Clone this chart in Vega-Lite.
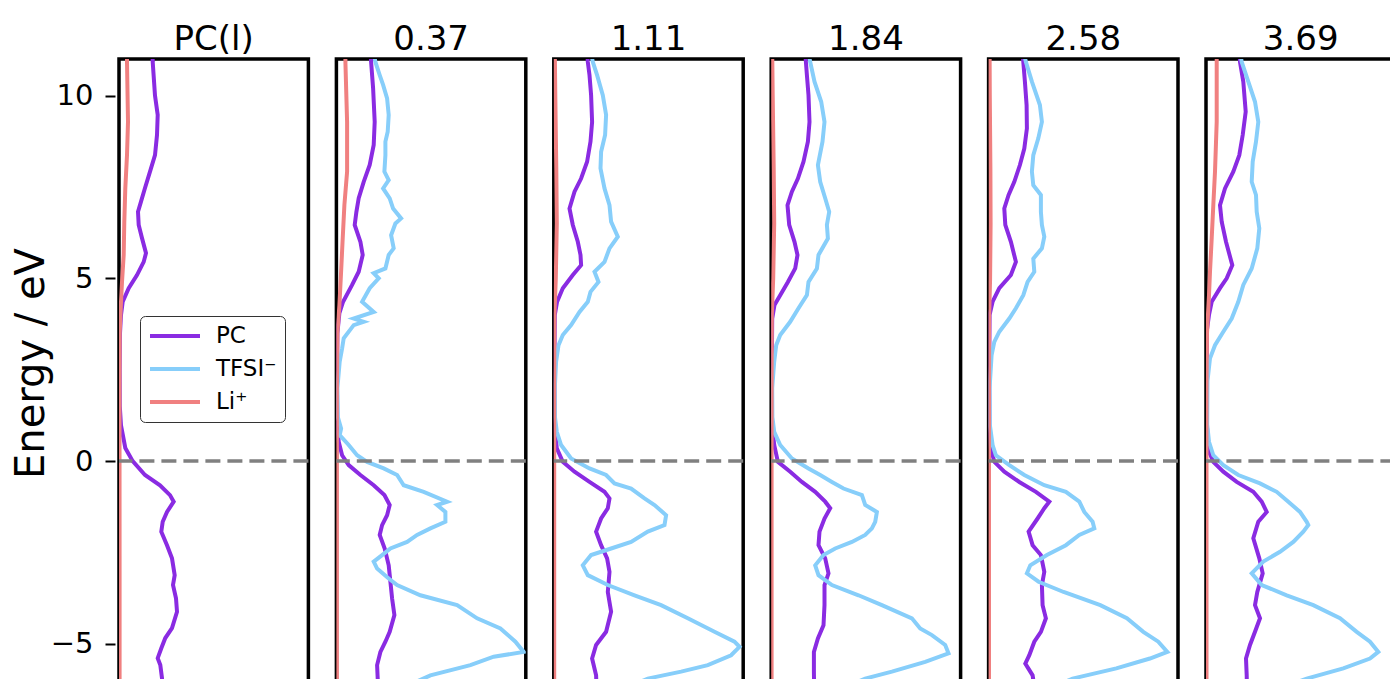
{
"$schema": "https://vega.github.io/schema/vega-lite/v6.json",
"background": "white",
"padding": {"left": 11, "top": 23, "right": 0, "bottom": 0},
"datasets": {"d": [
{"panel":"PC(l)","species":"PC","E":11.2,"dos":33.5},{"panel":"PC(l)","species":"PC","E":10.92,"dos":33.7},{"panel":"PC(l)","species":"PC","E":10.0,"dos":36},{"panel":"PC(l)","species":"PC","E":9.47,"dos":38.7},{"panel":"PC(l)","species":"PC","E":8.92,"dos":38},{"panel":"PC(l)","species":"PC","E":8.37,"dos":36},{"panel":"PC(l)","species":"PC","E":7.92,"dos":31},{"panel":"PC(l)","species":"PC","E":7.47,"dos":26},{"panel":"PC(l)","species":"PC","E":7.1,"dos":22},{"panel":"PC(l)","species":"PC","E":6.82,"dos":19},{"panel":"PC(l)","species":"PC","E":6.46,"dos":19.7},{"panel":"PC(l)","species":"PC","E":6.1,"dos":23},{"panel":"PC(l)","species":"PC","E":5.69,"dos":27},{"panel":"PC(l)","species":"PC","E":5.45,"dos":24.7},{"panel":"PC(l)","species":"PC","E":5.09,"dos":18},{"panel":"PC(l)","species":"PC","E":4.73,"dos":9.7},{"panel":"PC(l)","species":"PC","E":4.36,"dos":3.7},{"panel":"PC(l)","species":"PC","E":4.0,"dos":2},{"panel":"PC(l)","species":"PC","E":3.5,"dos":1},{"panel":"PC(l)","species":"PC","E":2.5,"dos":0.7},{"panel":"PC(l)","species":"PC","E":1.5,"dos":0.8},{"panel":"PC(l)","species":"PC","E":0.98,"dos":2},{"panel":"PC(l)","species":"PC","E":0.36,"dos":6.3},{"panel":"PC(l)","species":"PC","E":0,"dos":13.7},{"panel":"PC(l)","species":"PC","E":-0.38,"dos":26},{"panel":"PC(l)","species":"PC","E":-0.66,"dos":41},{"panel":"PC(l)","species":"PC","E":-0.93,"dos":51},{"panel":"PC(l)","species":"PC","E":-1.11,"dos":54.7},{"panel":"PC(l)","species":"PC","E":-1.39,"dos":48},{"panel":"PC(l)","species":"PC","E":-1.66,"dos":43.7},{"panel":"PC(l)","species":"PC","E":-1.93,"dos":42.3},{"panel":"PC(l)","species":"PC","E":-2.3,"dos":48},{"panel":"PC(l)","species":"PC","E":-2.66,"dos":53},{"panel":"PC(l)","species":"PC","E":-3.12,"dos":55.7},{"panel":"PC(l)","species":"PC","E":-3.39,"dos":54},{"panel":"PC(l)","species":"PC","E":-3.75,"dos":57},{"panel":"PC(l)","species":"PC","E":-4.12,"dos":58},{"panel":"PC(l)","species":"PC","E":-4.57,"dos":53},{"panel":"PC(l)","species":"PC","E":-4.84,"dos":46.3},{"panel":"PC(l)","species":"PC","E":-5.12,"dos":42.3},{"panel":"PC(l)","species":"PC","E":-5.39,"dos":38.7},{"panel":"PC(l)","species":"PC","E":-5.58,"dos":41.3},{"panel":"PC(l)","species":"PC","E":-5.94,"dos":43},{"panel":"PC(l)","species":"PC","E":-6.4,"dos":44},
{"panel":"PC(l)","species":"Li⁺","E":11.2,"dos":8},{"panel":"PC(l)","species":"Li⁺","E":10.92,"dos":8},{"panel":"PC(l)","species":"Li⁺","E":9.28,"dos":9},{"panel":"PC(l)","species":"Li⁺","E":8.37,"dos":8},{"panel":"PC(l)","species":"Li⁺","E":7.46,"dos":6.3},{"panel":"PC(l)","species":"Li⁺","E":6.55,"dos":5.3},{"panel":"PC(l)","species":"Li⁺","E":5.64,"dos":4.7},{"panel":"PC(l)","species":"Li⁺","E":4.9,"dos":3},{"panel":"PC(l)","species":"Li⁺","E":4.36,"dos":2},{"panel":"PC(l)","species":"Li⁺","E":3.5,"dos":0.7},{"panel":"PC(l)","species":"Li⁺","E":2,"dos":0.5},{"panel":"PC(l)","species":"Li⁺","E":-3,"dos":0.6},{"panel":"PC(l)","species":"Li⁺","E":-6.4,"dos":0.6},

{"panel":"0.37","species":"PC","E":11.2,"dos":34},{"panel":"0.37","species":"PC","E":10.92,"dos":34.7},{"panel":"0.37","species":"PC","E":10.2,"dos":36.7},{"panel":"0.37","species":"PC","E":9.28,"dos":38.3},{"panel":"0.37","species":"PC","E":8.65,"dos":37.3},{"panel":"0.37","species":"PC","E":8.1,"dos":33.3},{"panel":"0.37","species":"PC","E":7.64,"dos":27.3},{"panel":"0.37","species":"PC","E":7.19,"dos":22.3},{"panel":"0.37","species":"PC","E":6.82,"dos":20},{"panel":"0.37","species":"PC","E":6.46,"dos":18.3},{"panel":"0.37","species":"PC","E":6.0,"dos":24},{"panel":"0.37","species":"PC","E":5.64,"dos":26.3},{"panel":"0.37","species":"PC","E":5.18,"dos":22.3},{"panel":"0.37","species":"PC","E":4.82,"dos":15.7},{"panel":"0.37","species":"PC","E":4.36,"dos":6.7},{"panel":"0.37","species":"PC","E":4.05,"dos":3},{"panel":"0.37","species":"PC","E":3.5,"dos":1},{"panel":"0.37","species":"PC","E":2,"dos":0.6},{"panel":"0.37","species":"PC","E":1,"dos":0.8},{"panel":"0.37","species":"PC","E":0.53,"dos":2.3},{"panel":"0.37","species":"PC","E":0.16,"dos":5.7},{"panel":"0.37","species":"PC","E":-0.11,"dos":12.3},{"panel":"0.37","species":"PC","E":-0.38,"dos":24},{"panel":"0.37","species":"PC","E":-0.66,"dos":37.3},{"panel":"0.37","species":"PC","E":-0.93,"dos":48},{"panel":"0.37","species":"PC","E":-1.2,"dos":53.3},{"panel":"0.37","species":"PC","E":-1.48,"dos":50.7},{"panel":"0.37","species":"PC","E":-1.75,"dos":45.7},{"panel":"0.37","species":"PC","E":-2.02,"dos":43.3},{"panel":"0.37","species":"PC","E":-2.39,"dos":48.3},{"panel":"0.37","species":"PC","E":-2.85,"dos":52.3},{"panel":"0.37","species":"PC","E":-3.3,"dos":54},{"panel":"0.37","species":"PC","E":-3.76,"dos":55.7},{"panel":"0.37","species":"PC","E":-4.21,"dos":58},{"panel":"0.37","species":"PC","E":-4.67,"dos":53.3},{"panel":"0.37","species":"PC","E":-4.94,"dos":49},{"panel":"0.37","species":"PC","E":-5.22,"dos":44},{"panel":"0.37","species":"PC","E":-5.58,"dos":40.7},{"panel":"0.37","species":"PC","E":-5.95,"dos":41.3},{"panel":"0.37","species":"PC","E":-6.4,"dos":42},
{"panel":"0.37","species":"TFSI⁻","E":11.2,"dos":37},{"panel":"0.37","species":"TFSI⁻","E":10.92,"dos":39},{"panel":"0.37","species":"TFSI⁻","E":10.56,"dos":43.3},{"panel":"0.37","species":"TFSI⁻","E":10.29,"dos":46.7},{"panel":"0.37","species":"TFSI⁻","E":9.92,"dos":50.7},{"panel":"0.37","species":"TFSI⁻","E":9.47,"dos":52.3},{"panel":"0.37","species":"TFSI⁻","E":9.01,"dos":51.3},{"panel":"0.37","species":"TFSI⁻","E":8.74,"dos":49},{"panel":"0.37","species":"TFSI⁻","E":8.37,"dos":49},{"panel":"0.37","species":"TFSI⁻","E":7.92,"dos":48},{"panel":"0.37","species":"TFSI⁻","E":7.69,"dos":52.3},{"panel":"0.37","species":"TFSI⁻","E":7.46,"dos":46.7},{"panel":"0.37","species":"TFSI⁻","E":7.19,"dos":53.3},{"panel":"0.37","species":"TFSI⁻","E":6.91,"dos":56.7},{"panel":"0.37","species":"TFSI⁻","E":6.64,"dos":64.7},{"panel":"0.37","species":"TFSI⁻","E":6.5,"dos":59},{"panel":"0.37","species":"TFSI⁻","E":6.18,"dos":54.7},{"panel":"0.37","species":"TFSI⁻","E":5.82,"dos":57.3},{"panel":"0.37","species":"TFSI⁻","E":5.64,"dos":52.3},{"panel":"0.37","species":"TFSI⁻","E":5.27,"dos":49},{"panel":"0.37","species":"TFSI⁻","E":5.14,"dos":37.3},{"panel":"0.37","species":"TFSI⁻","E":5.0,"dos":42.3},{"panel":"0.37","species":"TFSI⁻","E":4.73,"dos":33.3},{"panel":"0.37","species":"TFSI⁻","E":4.36,"dos":25.7},{"panel":"0.37","species":"TFSI⁻","E":4.08,"dos":37.3},{"panel":"0.37","species":"TFSI⁻","E":3.9,"dos":17.3},{"panel":"0.37","species":"TFSI⁻","E":3.81,"dos":27.3},{"panel":"0.37","species":"TFSI⁻","E":3.72,"dos":17.3},{"panel":"0.37","species":"TFSI⁻","E":3.36,"dos":7.3},{"panel":"0.37","species":"TFSI⁻","E":3.08,"dos":5.7},{"panel":"0.37","species":"TFSI⁻","E":2.72,"dos":3.3},{"panel":"0.37","species":"TFSI⁻","E":2.0,"dos":1},{"panel":"0.37","species":"TFSI⁻","E":1.2,"dos":1.5},{"panel":"0.37","species":"TFSI⁻","E":0.89,"dos":4.7},{"panel":"0.37","species":"TFSI⁻","E":0.71,"dos":3.3},{"panel":"0.37","species":"TFSI⁻","E":0.44,"dos":12.3},{"panel":"0.37","species":"TFSI⁻","E":0.16,"dos":20.7},{"panel":"0.37","species":"TFSI⁻","E":-0.02,"dos":30.7},{"panel":"0.37","species":"TFSI⁻","E":-0.2,"dos":47.3},{"panel":"0.37","species":"TFSI⁻","E":-0.38,"dos":60.7},{"panel":"0.37","species":"TFSI⁻","E":-0.66,"dos":67.3},{"panel":"0.37","species":"TFSI⁻","E":-0.84,"dos":87.3},{"panel":"0.37","species":"TFSI⁻","E":-1.11,"dos":110.7},{"panel":"0.37","species":"TFSI⁻","E":-1.2,"dos":100.7},{"panel":"0.37","species":"TFSI⁻","E":-1.39,"dos":109},{"panel":"0.37","species":"TFSI⁻","E":-1.66,"dos":109},{"panel":"0.37","species":"TFSI⁻","E":-1.84,"dos":94},{"panel":"0.37","species":"TFSI⁻","E":-2.02,"dos":80.7},{"panel":"0.37","species":"TFSI⁻","E":-2.21,"dos":70.7},{"panel":"0.37","species":"TFSI⁻","E":-2.39,"dos":54},{"panel":"0.37","species":"TFSI⁻","E":-2.57,"dos":45.7},{"panel":"0.37","species":"TFSI⁻","E":-2.75,"dos":37.3},{"panel":"0.37","species":"TFSI⁻","E":-2.94,"dos":40.7},{"panel":"0.37","species":"TFSI⁻","E":-3.21,"dos":52.3},{"panel":"0.37","species":"TFSI⁻","E":-3.39,"dos":60.7},{"panel":"0.37","species":"TFSI⁻","E":-3.67,"dos":84},{"panel":"0.37","species":"TFSI⁻","E":-3.94,"dos":120.7},{"panel":"0.37","species":"TFSI⁻","E":-4.3,"dos":140.7},{"panel":"0.37","species":"TFSI⁻","E":-4.58,"dos":164},{"panel":"0.37","species":"TFSI⁻","E":-4.94,"dos":179},{"panel":"0.37","species":"TFSI⁻","E":-5.22,"dos":187.3},{"panel":"0.37","species":"TFSI⁻","E":-5.35,"dos":157.3},{"panel":"0.37","species":"TFSI⁻","E":-5.58,"dos":134},{"panel":"0.37","species":"TFSI⁻","E":-5.86,"dos":94},{"panel":"0.37","species":"TFSI⁻","E":-6.4,"dos":50},
{"panel":"0.37","species":"Li⁺","E":11.2,"dos":9},{"panel":"0.37","species":"Li⁺","E":10.92,"dos":9},{"panel":"0.37","species":"Li⁺","E":9.28,"dos":10.7},{"panel":"0.37","species":"Li⁺","E":7.92,"dos":10.7},{"panel":"0.37","species":"Li⁺","E":7.01,"dos":8},{"panel":"0.37","species":"Li⁺","E":6.09,"dos":6.3},{"panel":"0.37","species":"Li⁺","E":5.18,"dos":4.7},{"panel":"0.37","species":"Li⁺","E":4.27,"dos":3},{"panel":"0.37","species":"Li⁺","E":3.5,"dos":1},{"panel":"0.37","species":"Li⁺","E":2,"dos":0.5},{"panel":"0.37","species":"Li⁺","E":-6.4,"dos":0.5},

{"panel":"1.11","species":"PC","E":11.2,"dos":33.5},{"panel":"1.11","species":"PC","E":10.92,"dos":34},{"panel":"1.11","species":"PC","E":10.56,"dos":35.7},{"panel":"1.11","species":"PC","E":10.01,"dos":37.3},{"panel":"1.11","species":"PC","E":9.28,"dos":38.3},{"panel":"1.11","species":"PC","E":8.74,"dos":36.7},{"panel":"1.11","species":"PC","E":8.19,"dos":33.3},{"panel":"1.11","species":"PC","E":7.73,"dos":27.3},{"panel":"1.11","species":"PC","E":7.37,"dos":20.7},{"panel":"1.11","species":"PC","E":6.91,"dos":15.7},{"panel":"1.11","species":"PC","E":6.46,"dos":19},{"panel":"1.11","species":"PC","E":6.0,"dos":24},{"panel":"1.11","species":"PC","E":5.64,"dos":26.7},{"panel":"1.11","species":"PC","E":5.36,"dos":27.3},{"panel":"1.11","species":"PC","E":5.09,"dos":19},{"panel":"1.11","species":"PC","E":4.73,"dos":9},{"panel":"1.11","species":"PC","E":4.36,"dos":3.3},{"panel":"1.11","species":"PC","E":4.0,"dos":1},{"panel":"1.11","species":"PC","E":2.5,"dos":0.6},{"panel":"1.11","species":"PC","E":1,"dos":0.8},{"panel":"1.11","species":"PC","E":0.35,"dos":3},{"panel":"1.11","species":"PC","E":-0.02,"dos":9},{"panel":"1.11","species":"PC","E":-0.29,"dos":20.7},{"panel":"1.11","species":"PC","E":-0.57,"dos":35.7},{"panel":"1.11","species":"PC","E":-0.84,"dos":50.7},{"panel":"1.11","species":"PC","E":-1.02,"dos":55.7},{"panel":"1.11","species":"PC","E":-1.29,"dos":54},{"panel":"1.11","species":"PC","E":-1.57,"dos":47.3},{"panel":"1.11","species":"PC","E":-1.93,"dos":42.3},{"panel":"1.11","species":"PC","E":-2.3,"dos":47.3},{"panel":"1.11","species":"PC","E":-2.66,"dos":53.3},{"panel":"1.11","species":"PC","E":-3.03,"dos":55.7},{"panel":"1.11","species":"PC","E":-3.58,"dos":54},{"panel":"1.11","species":"PC","E":-4.12,"dos":57.3},{"panel":"1.11","species":"PC","E":-4.67,"dos":52.3},{"panel":"1.11","species":"PC","E":-5.03,"dos":42.3},{"panel":"1.11","species":"PC","E":-5.4,"dos":38.3},{"panel":"1.11","species":"PC","E":-5.86,"dos":42.3},{"panel":"1.11","species":"PC","E":-6.4,"dos":43},
{"panel":"1.11","species":"TFSI⁻","E":11.2,"dos":37},{"panel":"1.11","species":"TFSI⁻","E":10.92,"dos":39},{"panel":"1.11","species":"TFSI⁻","E":10.56,"dos":43.3},{"panel":"1.11","species":"TFSI⁻","E":10.01,"dos":49},{"panel":"1.11","species":"TFSI⁻","E":9.47,"dos":52.3},{"panel":"1.11","species":"TFSI⁻","E":8.92,"dos":51.3},{"panel":"1.11","species":"TFSI⁻","E":8.46,"dos":47.3},{"panel":"1.11","species":"TFSI⁻","E":8.01,"dos":46.7},{"panel":"1.11","species":"TFSI⁻","E":7.46,"dos":50.7},{"panel":"1.11","species":"TFSI⁻","E":7.0,"dos":55.7},{"panel":"1.11","species":"TFSI⁻","E":6.55,"dos":57.3},{"panel":"1.11","species":"TFSI⁻","E":6.14,"dos":64},{"panel":"1.11","species":"TFSI⁻","E":5.82,"dos":55.7},{"panel":"1.11","species":"TFSI⁻","E":5.45,"dos":50.7},{"panel":"1.11","species":"TFSI⁻","E":5.18,"dos":40.7},{"panel":"1.11","species":"TFSI⁻","E":4.9,"dos":44.7},{"panel":"1.11","species":"TFSI⁻","E":4.63,"dos":36.7},{"panel":"1.11","species":"TFSI⁻","E":4.36,"dos":34},{"panel":"1.11","species":"TFSI⁻","E":4.08,"dos":25.7},{"panel":"1.11","species":"TFSI⁻","E":3.72,"dos":17.3},{"panel":"1.11","species":"TFSI⁻","E":3.45,"dos":9},{"panel":"1.11","species":"TFSI⁻","E":3.17,"dos":4.7},{"panel":"1.11","species":"TFSI⁻","E":2.72,"dos":2.3},{"panel":"1.11","species":"TFSI⁻","E":2.0,"dos":1},{"panel":"1.11","species":"TFSI⁻","E":1.2,"dos":1.2},{"panel":"1.11","species":"TFSI⁻","E":0.8,"dos":3},{"panel":"1.11","species":"TFSI⁻","E":0.44,"dos":7.3},{"panel":"1.11","species":"TFSI⁻","E":0.07,"dos":17.3},{"panel":"1.11","species":"TFSI⁻","E":-0.2,"dos":35.7},{"panel":"1.11","species":"TFSI⁻","E":-0.38,"dos":52.3},{"panel":"1.11","species":"TFSI⁻","E":-0.61,"dos":60.7},{"panel":"1.11","species":"TFSI⁻","E":-0.75,"dos":77.3},{"panel":"1.11","species":"TFSI⁻","E":-1.02,"dos":90.7},{"panel":"1.11","species":"TFSI⁻","E":-1.2,"dos":100.7},{"panel":"1.11","species":"TFSI⁻","E":-1.48,"dos":112.3},{"panel":"1.11","species":"TFSI⁻","E":-1.75,"dos":110.7},{"panel":"1.11","species":"TFSI⁻","E":-1.93,"dos":94},{"panel":"1.11","species":"TFSI⁻","E":-2.21,"dos":77.3},{"panel":"1.11","species":"TFSI⁻","E":-2.39,"dos":57.3},{"panel":"1.11","species":"TFSI⁻","E":-2.57,"dos":37.3},{"panel":"1.11","species":"TFSI⁻","E":-2.85,"dos":29},{"panel":"1.11","species":"TFSI⁻","E":-3.12,"dos":34},{"panel":"1.11","species":"TFSI⁻","E":-3.39,"dos":54},{"panel":"1.11","species":"TFSI⁻","E":-3.67,"dos":80.7},{"panel":"1.11","species":"TFSI⁻","E":-3.94,"dos":107.3},{"panel":"1.11","species":"TFSI⁻","E":-4.3,"dos":134},{"panel":"1.11","species":"TFSI⁻","E":-4.67,"dos":160.7},{"panel":"1.11","species":"TFSI⁻","E":-4.94,"dos":180.7},{"panel":"1.11","species":"TFSI⁻","E":-5.08,"dos":185.7},{"panel":"1.11","species":"TFSI⁻","E":-5.31,"dos":177.3},{"panel":"1.11","species":"TFSI⁻","E":-5.58,"dos":154},{"panel":"1.11","species":"TFSI⁻","E":-5.76,"dos":127.3},{"panel":"1.11","species":"TFSI⁻","E":-5.95,"dos":94},{"panel":"1.11","species":"TFSI⁻","E":-6.4,"dos":55},
{"panel":"1.11","species":"Li⁺","E":11.2,"dos":1},{"panel":"1.11","species":"Li⁺","E":10,"dos":1.5},{"panel":"1.11","species":"Li⁺","E":8,"dos":2.5},{"panel":"1.11","species":"Li⁺","E":6.5,"dos":3},{"panel":"1.11","species":"Li⁺","E":5,"dos":2},{"panel":"1.11","species":"Li⁺","E":4,"dos":0.6},{"panel":"1.11","species":"Li⁺","E":2,"dos":0.4},{"panel":"1.11","species":"Li⁺","E":-6.4,"dos":0.4},

{"panel":"1.84","species":"PC","E":11.2,"dos":34},{"panel":"1.84","species":"PC","E":10.92,"dos":34.7},{"panel":"1.84","species":"PC","E":10.56,"dos":35.7},{"panel":"1.84","species":"PC","E":10.01,"dos":37.3},{"panel":"1.84","species":"PC","E":9.28,"dos":38.3},{"panel":"1.84","species":"PC","E":8.74,"dos":36.7},{"panel":"1.84","species":"PC","E":8.19,"dos":32.3},{"panel":"1.84","species":"PC","E":7.73,"dos":26.7},{"panel":"1.84","species":"PC","E":7.37,"dos":20.7},{"panel":"1.84","species":"PC","E":7.0,"dos":16.3},{"panel":"1.84","species":"PC","E":6.46,"dos":18},{"panel":"1.84","species":"PC","E":6.0,"dos":23.3},{"panel":"1.84","species":"PC","E":5.64,"dos":26.3},{"panel":"1.84","species":"PC","E":5.27,"dos":24},{"panel":"1.84","species":"PC","E":4.9,"dos":16.7},{"panel":"1.84","species":"PC","E":4.54,"dos":9},{"panel":"1.84","species":"PC","E":4.27,"dos":3.3},{"panel":"1.84","species":"PC","E":3.9,"dos":1},{"panel":"1.84","species":"PC","E":2.5,"dos":0.6},{"panel":"1.84","species":"PC","E":1,"dos":0.8},{"panel":"1.84","species":"PC","E":0.44,"dos":3},{"panel":"1.84","species":"PC","E":-0.02,"dos":6.7},{"panel":"1.84","species":"PC","E":-0.29,"dos":19},{"panel":"1.84","species":"PC","E":-0.57,"dos":30.7},{"panel":"1.84","species":"PC","E":-0.84,"dos":44},{"panel":"1.84","species":"PC","E":-1.11,"dos":54},{"panel":"1.84","species":"PC","E":-1.29,"dos":59},{"panel":"1.84","species":"PC","E":-1.57,"dos":53.3},{"panel":"1.84","species":"PC","E":-1.93,"dos":48.3},{"panel":"1.84","species":"PC","E":-2.3,"dos":47.3},{"panel":"1.84","species":"PC","E":-2.66,"dos":54},{"panel":"1.84","species":"PC","E":-3.07,"dos":57.3},{"panel":"1.84","species":"PC","E":-3.39,"dos":53.3},{"panel":"1.84","species":"PC","E":-3.94,"dos":53.3},{"panel":"1.84","species":"PC","E":-4.49,"dos":52.3},{"panel":"1.84","species":"PC","E":-4.85,"dos":46.7},{"panel":"1.84","species":"PC","E":-5.22,"dos":42.7},{"panel":"1.84","species":"PC","E":-5.76,"dos":42.7},{"panel":"1.84","species":"PC","E":-6.4,"dos":43},
{"panel":"1.84","species":"TFSI⁻","E":11.2,"dos":37},{"panel":"1.84","species":"TFSI⁻","E":10.92,"dos":39},{"panel":"1.84","species":"TFSI⁻","E":10.38,"dos":43.3},{"panel":"1.84","species":"TFSI⁻","E":9.83,"dos":50},{"panel":"1.84","species":"TFSI⁻","E":9.28,"dos":53.3},{"panel":"1.84","species":"TFSI⁻","E":8.74,"dos":51.3},{"panel":"1.84","species":"TFSI⁻","E":8.1,"dos":46.7},{"panel":"1.84","species":"TFSI⁻","E":7.64,"dos":49},{"panel":"1.84","species":"TFSI⁻","E":7.19,"dos":54},{"panel":"1.84","species":"TFSI⁻","E":6.82,"dos":58},{"panel":"1.84","species":"TFSI⁻","E":6.46,"dos":55.7},{"panel":"1.84","species":"TFSI⁻","E":6.09,"dos":56.7},{"panel":"1.84","species":"TFSI⁻","E":5.64,"dos":47.3},{"panel":"1.84","species":"TFSI⁻","E":5.27,"dos":45.7},{"panel":"1.84","species":"TFSI⁻","E":4.9,"dos":37.3},{"panel":"1.84","species":"TFSI⁻","E":4.54,"dos":35.7},{"panel":"1.84","species":"TFSI⁻","E":4.18,"dos":27.3},{"panel":"1.84","species":"TFSI⁻","E":3.81,"dos":19},{"panel":"1.84","species":"TFSI⁻","E":3.45,"dos":9},{"panel":"1.84","species":"TFSI⁻","E":3.17,"dos":5},{"panel":"1.84","species":"TFSI⁻","E":2.72,"dos":3},{"panel":"1.84","species":"TFSI⁻","E":2,"dos":1},{"panel":"1.84","species":"TFSI⁻","E":1.2,"dos":1.2},{"panel":"1.84","species":"TFSI⁻","E":0.8,"dos":3},{"panel":"1.84","species":"TFSI⁻","E":0.44,"dos":9},{"panel":"1.84","species":"TFSI⁻","E":0.07,"dos":20.7},{"panel":"1.84","species":"TFSI⁻","E":-0.2,"dos":37.3},{"panel":"1.84","species":"TFSI⁻","E":-0.38,"dos":49},{"panel":"1.84","species":"TFSI⁻","E":-0.57,"dos":60.7},{"panel":"1.84","species":"TFSI⁻","E":-0.75,"dos":72.3},{"panel":"1.84","species":"TFSI⁻","E":-0.93,"dos":90.7},{"panel":"1.84","species":"TFSI⁻","E":-1.2,"dos":94},{"panel":"1.84","species":"TFSI⁻","E":-1.39,"dos":105.7},{"panel":"1.84","species":"TFSI⁻","E":-1.66,"dos":104},{"panel":"1.84","species":"TFSI⁻","E":-1.84,"dos":100.7},{"panel":"1.84","species":"TFSI⁻","E":-2.02,"dos":94},{"panel":"1.84","species":"TFSI⁻","E":-2.21,"dos":80.7},{"panel":"1.84","species":"TFSI⁻","E":-2.39,"dos":64},{"panel":"1.84","species":"TFSI⁻","E":-2.57,"dos":52.3},{"panel":"1.84","species":"TFSI⁻","E":-2.85,"dos":44},{"panel":"1.84","species":"TFSI⁻","E":-3.12,"dos":47.3},{"panel":"1.84","species":"TFSI⁻","E":-3.39,"dos":60.7},{"panel":"1.84","species":"TFSI⁻","E":-3.67,"dos":87.3},{"panel":"1.84","species":"TFSI⁻","E":-3.94,"dos":110.7},{"panel":"1.84","species":"TFSI⁻","E":-4.3,"dos":140.7},{"panel":"1.84","species":"TFSI⁻","E":-4.58,"dos":149},{"panel":"1.84","species":"TFSI⁻","E":-4.76,"dos":160.7},{"panel":"1.84","species":"TFSI⁻","E":-5.03,"dos":174},{"panel":"1.84","species":"TFSI⁻","E":-5.26,"dos":177.3},{"panel":"1.84","species":"TFSI⁻","E":-5.49,"dos":154},{"panel":"1.84","species":"TFSI⁻","E":-5.76,"dos":120.7},{"panel":"1.84","species":"TFSI⁻","E":-5.95,"dos":94},{"panel":"1.84","species":"TFSI⁻","E":-6.4,"dos":55},
{"panel":"1.84","species":"Li⁺","E":11.2,"dos":1},{"panel":"1.84","species":"Li⁺","E":10,"dos":1.5},{"panel":"1.84","species":"Li⁺","E":8,"dos":2.5},{"panel":"1.84","species":"Li⁺","E":6.5,"dos":3},{"panel":"1.84","species":"Li⁺","E":5,"dos":2},{"panel":"1.84","species":"Li⁺","E":4,"dos":0.6},{"panel":"1.84","species":"Li⁺","E":2,"dos":0.4},{"panel":"1.84","species":"Li⁺","E":-6.4,"dos":0.4},

{"panel":"2.58","species":"PC","E":11.2,"dos":34},{"panel":"2.58","species":"PC","E":10.92,"dos":34.7},{"panel":"2.58","species":"PC","E":10.38,"dos":36.3},{"panel":"2.58","species":"PC","E":9.74,"dos":38},{"panel":"2.58","species":"PC","E":9.1,"dos":38.3},{"panel":"2.58","species":"PC","E":8.55,"dos":35.7},{"panel":"2.58","species":"PC","E":8.1,"dos":31.3},{"panel":"2.58","species":"PC","E":7.64,"dos":25.7},{"panel":"2.58","species":"PC","E":7.28,"dos":20},{"panel":"2.58","species":"PC","E":6.91,"dos":15.7},{"panel":"2.58","species":"PC","E":6.46,"dos":16.7},{"panel":"2.58","species":"PC","E":6.0,"dos":22.3},{"panel":"2.58","species":"PC","E":5.45,"dos":27.3},{"panel":"2.58","species":"PC","E":5.09,"dos":22.3},{"panel":"2.58","species":"PC","E":4.73,"dos":10.7},{"panel":"2.58","species":"PC","E":4.36,"dos":4},{"panel":"2.58","species":"PC","E":4.0,"dos":1},{"panel":"2.58","species":"PC","E":2.5,"dos":0.6},{"panel":"2.58","species":"PC","E":1,"dos":0.8},{"panel":"2.58","species":"PC","E":0.35,"dos":2.3},{"panel":"2.58","species":"PC","E":-0.02,"dos":5.7},{"panel":"2.58","species":"PC","E":-0.29,"dos":15.7},{"panel":"2.58","species":"PC","E":-0.57,"dos":30.7},{"panel":"2.58","species":"PC","E":-0.84,"dos":47.3},{"panel":"2.58","species":"PC","E":-1.11,"dos":60.7},{"panel":"2.58","species":"PC","E":-1.29,"dos":55.7},{"panel":"2.58","species":"PC","E":-1.57,"dos":49},{"panel":"2.58","species":"PC","E":-1.93,"dos":40},{"panel":"2.58","species":"PC","E":-2.3,"dos":44},{"panel":"2.58","species":"PC","E":-2.57,"dos":52.3},{"panel":"2.58","species":"PC","E":-3.03,"dos":55.7},{"panel":"2.58","species":"PC","E":-3.39,"dos":53.3},{"panel":"2.58","species":"PC","E":-3.94,"dos":54},{"panel":"2.58","species":"PC","E":-4.3,"dos":57.3},{"panel":"2.58","species":"PC","E":-4.67,"dos":52.3},{"panel":"2.58","species":"PC","E":-4.94,"dos":45.7},{"panel":"2.58","species":"PC","E":-5.31,"dos":40.7},{"panel":"2.58","species":"PC","E":-5.54,"dos":36.7},{"panel":"2.58","species":"PC","E":-5.86,"dos":44},{"panel":"2.58","species":"PC","E":-6.4,"dos":47},
{"panel":"2.58","species":"TFSI⁻","E":11.2,"dos":35},{"panel":"2.58","species":"TFSI⁻","E":10.92,"dos":37.3},{"panel":"2.58","species":"TFSI⁻","E":10.38,"dos":43.3},{"panel":"2.58","species":"TFSI⁻","E":9.74,"dos":51.3},{"panel":"2.58","species":"TFSI⁻","E":9.28,"dos":53.3},{"panel":"2.58","species":"TFSI⁻","E":8.83,"dos":49.7},{"panel":"2.58","species":"TFSI⁻","E":8.37,"dos":44.7},{"panel":"2.58","species":"TFSI⁻","E":7.92,"dos":43.3},{"panel":"2.58","species":"TFSI⁻","E":7.55,"dos":44.7},{"panel":"2.58","species":"TFSI⁻","E":7.28,"dos":52.3},{"panel":"2.58","species":"TFSI⁻","E":6.82,"dos":52.3},{"panel":"2.58","species":"TFSI⁻","E":6.46,"dos":53.3},{"panel":"2.58","species":"TFSI⁻","E":6.14,"dos":55.7},{"panel":"2.58","species":"TFSI⁻","E":5.82,"dos":53.3},{"panel":"2.58","species":"TFSI⁻","E":5.54,"dos":44.7},{"panel":"2.58","species":"TFSI⁻","E":5.18,"dos":45.7},{"panel":"2.58","species":"TFSI⁻","E":4.9,"dos":39},{"panel":"2.58","species":"TFSI⁻","E":4.54,"dos":34.7},{"panel":"2.58","species":"TFSI⁻","E":4.18,"dos":27.3},{"panel":"2.58","species":"TFSI⁻","E":3.9,"dos":20.7},{"panel":"2.58","species":"TFSI⁻","E":3.54,"dos":10.7},{"panel":"2.58","species":"TFSI⁻","E":3.26,"dos":5.7},{"panel":"2.58","species":"TFSI⁻","E":2.9,"dos":3},{"panel":"2.58","species":"TFSI⁻","E":2,"dos":1},{"panel":"2.58","species":"TFSI⁻","E":1,"dos":1.2},{"panel":"2.58","species":"TFSI⁻","E":0.44,"dos":4},{"panel":"2.58","species":"TFSI⁻","E":0.16,"dos":7.3},{"panel":"2.58","species":"TFSI⁻","E":-0.11,"dos":20.7},{"panel":"2.58","species":"TFSI⁻","E":-0.38,"dos":35.7},{"panel":"2.58","species":"TFSI⁻","E":-0.66,"dos":55.7},{"panel":"2.58","species":"TFSI⁻","E":-0.84,"dos":77.3},{"panel":"2.58","species":"TFSI⁻","E":-1.11,"dos":90.7},{"panel":"2.58","species":"TFSI⁻","E":-1.39,"dos":95.7},{"panel":"2.58","species":"TFSI⁻","E":-1.66,"dos":104},{"panel":"2.58","species":"TFSI⁻","E":-1.84,"dos":105.7},{"panel":"2.58","species":"TFSI⁻","E":-2.02,"dos":90.7},{"panel":"2.58","species":"TFSI⁻","E":-2.3,"dos":77.3},{"panel":"2.58","species":"TFSI⁻","E":-2.57,"dos":58.3},{"panel":"2.58","species":"TFSI⁻","E":-2.85,"dos":41.7},{"panel":"2.58","species":"TFSI⁻","E":-3.07,"dos":38.3},{"panel":"2.58","species":"TFSI⁻","E":-3.3,"dos":50},{"panel":"2.58","species":"TFSI⁻","E":-3.58,"dos":75},{"panel":"2.58","species":"TFSI⁻","E":-3.94,"dos":111.7},{"panel":"2.58","species":"TFSI⁻","E":-4.3,"dos":138.3},{"panel":"2.58","species":"TFSI⁻","E":-4.67,"dos":154.7},{"panel":"2.58","species":"TFSI⁻","E":-4.94,"dos":169.7},{"panel":"2.58","species":"TFSI⁻","E":-5.22,"dos":178.7},{"panel":"2.58","species":"TFSI⁻","E":-5.4,"dos":161.3},{"panel":"2.58","species":"TFSI⁻","E":-5.67,"dos":127.7},{"panel":"2.58","species":"TFSI⁻","E":-5.95,"dos":84},{"panel":"2.58","species":"TFSI⁻","E":-6.4,"dos":45},
{"panel":"2.58","species":"Li⁺","E":11.2,"dos":1},{"panel":"2.58","species":"Li⁺","E":10,"dos":1.2},{"panel":"2.58","species":"Li⁺","E":8,"dos":1.8},{"panel":"2.58","species":"Li⁺","E":6.5,"dos":2},{"panel":"2.58","species":"Li⁺","E":5,"dos":1.5},{"panel":"2.58","species":"Li⁺","E":4,"dos":0.6},{"panel":"2.58","species":"Li⁺","E":2,"dos":0.4},{"panel":"2.58","species":"Li⁺","E":-6.4,"dos":0.4},

{"panel":"3.69","species":"PC","E":11.2,"dos":33.5},{"panel":"3.69","species":"PC","E":10.92,"dos":34},{"panel":"3.69","species":"PC","E":10.38,"dos":37.3},{"panel":"3.69","species":"PC","E":9.56,"dos":39.7},{"panel":"3.69","species":"PC","E":8.92,"dos":36.7},{"panel":"3.69","species":"PC","E":8.37,"dos":33.3},{"panel":"3.69","species":"PC","E":7.92,"dos":27.3},{"panel":"3.69","species":"PC","E":7.46,"dos":19},{"panel":"3.69","species":"PC","E":7.0,"dos":14},{"panel":"3.69","species":"PC","E":6.55,"dos":15.7},{"panel":"3.69","species":"PC","E":6.0,"dos":20},{"panel":"3.69","species":"PC","E":5.36,"dos":26.3},{"panel":"3.69","species":"PC","E":5.0,"dos":20.7},{"panel":"3.69","species":"PC","E":4.73,"dos":14},{"panel":"3.69","species":"PC","E":4.36,"dos":5.7},{"panel":"3.69","species":"PC","E":4.0,"dos":3},{"panel":"3.69","species":"PC","E":3.6,"dos":1},{"panel":"3.69","species":"PC","E":2.5,"dos":0.6},{"panel":"3.69","species":"PC","E":1,"dos":0.8},{"panel":"3.69","species":"PC","E":0.26,"dos":3},{"panel":"3.69","species":"PC","E":-0.02,"dos":7.3},{"panel":"3.69","species":"PC","E":-0.29,"dos":17.3},{"panel":"3.69","species":"PC","E":-0.57,"dos":30.7},{"panel":"3.69","species":"PC","E":-0.84,"dos":47.3},{"panel":"3.69","species":"PC","E":-1.11,"dos":55.7},{"panel":"3.69","species":"PC","E":-1.39,"dos":60.7},{"panel":"3.69","species":"PC","E":-1.66,"dos":52.3},{"panel":"3.69","species":"PC","E":-2.11,"dos":47.3},{"panel":"3.69","species":"PC","E":-2.66,"dos":53.3},{"panel":"3.69","species":"PC","E":-3.07,"dos":56.7},{"panel":"3.69","species":"PC","E":-3.58,"dos":51.3},{"panel":"3.69","species":"PC","E":-3.94,"dos":49},{"panel":"3.69","species":"PC","E":-4.3,"dos":54},{"panel":"3.69","species":"PC","E":-4.67,"dos":49},{"panel":"3.69","species":"PC","E":-5.03,"dos":44},{"panel":"3.69","species":"PC","E":-5.4,"dos":40},{"panel":"3.69","species":"PC","E":-5.86,"dos":40.7},{"panel":"3.69","species":"PC","E":-6.4,"dos":41},
{"panel":"3.69","species":"TFSI⁻","E":11.2,"dos":34},{"panel":"3.69","species":"TFSI⁻","E":10.92,"dos":35.7},{"panel":"3.69","species":"TFSI⁻","E":10.38,"dos":42.3},{"panel":"3.69","species":"TFSI⁻","E":9.83,"dos":49},{"panel":"3.69","species":"TFSI⁻","E":9.28,"dos":52.3},{"panel":"3.69","species":"TFSI⁻","E":8.74,"dos":50},{"panel":"3.69","species":"TFSI⁻","E":8.19,"dos":46.7},{"panel":"3.69","species":"TFSI⁻","E":7.64,"dos":45.7},{"panel":"3.69","species":"TFSI⁻","E":7.28,"dos":50},{"panel":"3.69","species":"TFSI⁻","E":6.82,"dos":50.7},{"panel":"3.69","species":"TFSI⁻","E":6.37,"dos":53.3},{"panel":"3.69","species":"TFSI⁻","E":5.82,"dos":51.3},{"panel":"3.69","species":"TFSI⁻","E":5.27,"dos":45.7},{"panel":"3.69","species":"TFSI⁻","E":4.82,"dos":37.3},{"panel":"3.69","species":"TFSI⁻","E":4.36,"dos":32.3},{"panel":"3.69","species":"TFSI⁻","E":3.9,"dos":25.7},{"panel":"3.69","species":"TFSI⁻","E":3.54,"dos":17.3},{"panel":"3.69","species":"TFSI⁻","E":3.17,"dos":9},{"panel":"3.69","species":"TFSI⁻","E":2.81,"dos":4},{"panel":"3.69","species":"TFSI⁻","E":2.2,"dos":1.5},{"panel":"3.69","species":"TFSI⁻","E":1,"dos":1.2},{"panel":"3.69","species":"TFSI⁻","E":0.53,"dos":3},{"panel":"3.69","species":"TFSI⁻","E":0.16,"dos":7.3},{"panel":"3.69","species":"TFSI⁻","E":-0.11,"dos":17.3},{"panel":"3.69","species":"TFSI⁻","E":-0.38,"dos":32.3},{"panel":"3.69","species":"TFSI⁻","E":-0.61,"dos":54},{"panel":"3.69","species":"TFSI⁻","E":-0.84,"dos":70.7},{"panel":"3.69","species":"TFSI⁻","E":-1.11,"dos":82.3},{"panel":"3.69","species":"TFSI⁻","E":-1.39,"dos":94},{"panel":"3.69","species":"TFSI⁻","E":-1.66,"dos":100.7},{"panel":"3.69","species":"TFSI⁻","E":-1.75,"dos":102.3},{"panel":"3.69","species":"TFSI⁻","E":-1.93,"dos":97.3},{"panel":"3.69","species":"TFSI⁻","E":-2.21,"dos":87.3},{"panel":"3.69","species":"TFSI⁻","E":-2.48,"dos":74},{"panel":"3.69","species":"TFSI⁻","E":-2.75,"dos":57.3},{"panel":"3.69","species":"TFSI⁻","E":-3.07,"dos":45.7},{"panel":"3.69","species":"TFSI⁻","E":-3.39,"dos":55.7},{"panel":"3.69","species":"TFSI⁻","E":-3.67,"dos":80.7},{"panel":"3.69","species":"TFSI⁻","E":-3.94,"dos":107.3},{"panel":"3.69","species":"TFSI⁻","E":-4.3,"dos":134},{"panel":"3.69","species":"TFSI⁻","E":-4.67,"dos":150.7},{"panel":"3.69","species":"TFSI⁻","E":-4.94,"dos":164},{"panel":"3.69","species":"TFSI⁻","E":-5.22,"dos":172.3},{"panel":"3.69","species":"TFSI⁻","E":-5.4,"dos":164},{"panel":"3.69","species":"TFSI⁻","E":-5.67,"dos":137.3},{"panel":"3.69","species":"TFSI⁻","E":-5.95,"dos":100.7},{"panel":"3.69","species":"TFSI⁻","E":-6.4,"dos":55},
{"panel":"3.69","species":"Li⁺","E":11.2,"dos":10.7},{"panel":"3.69","species":"Li⁺","E":10.92,"dos":10.7},{"panel":"3.69","species":"Li⁺","E":9.28,"dos":10.7},{"panel":"3.69","species":"Li⁺","E":7.92,"dos":9},{"panel":"3.69","species":"Li⁺","E":7.0,"dos":7.3},{"panel":"3.69","species":"Li⁺","E":6.09,"dos":5.7},{"panel":"3.69","species":"Li⁺","E":5.18,"dos":4},{"panel":"3.69","species":"Li⁺","E":4.54,"dos":3},{"panel":"3.69","species":"Li⁺","E":3.5,"dos":1},{"panel":"3.69","species":"Li⁺","E":2,"dos":0.5},{"panel":"3.69","species":"Li⁺","E":-6.4,"dos":0.5}
]},
"data": {"name": "d"},
"facet": {"column": {"field": "panel", "type": "nominal", "sort": ["PC(l)", "0.37", "1.11", "1.84", "2.58", "3.69"], "title": null,
  "header": {"labelFontSize": 34, "labelFont": "DejaVu Sans", "labelColor": "black", "labelPadding": -34, "labelBaseline": "bottom"}}},
"spacing": 20.4,
"spec": {
  "width": 189.4,
  "height": 658,
  "layer": [
    {"mark": {"type": "line", "strokeWidth": 4, "clip": true},
     "encoding": {
       "x": {"field": "dos", "type": "quantitative", "scale": {"domain": [0, 189.4], "nice": false, "zero": false}, "axis": null},
       "y": {"field": "E", "type": "quantitative", "scale": {"domain": [-7, 11], "nice": false, "zero": false},
             "axis": {"values": [-5, 0, 5, 10], "title": "Energy / eV", "labelExpr": "replace(datum.label, '-', '−')", "labelFontSize": 29, "labelFont": "DejaVu Sans", "labelColor": "black", "labelPadding": 12, "tickSize": 10, "tickWidth": 2, "tickColor": "black", "domain": false, "grid": false,
                      "titleFontSize": 40, "titleFont": "DejaVu Sans", "titleFontWeight": "normal", "titleColor": "black", "titleX": -84, "titleY": 304, "titleAngle": -90, "titleAlign": "center", "titleBaseline": "middle"}},
       "color": {"field": "species", "type": "nominal", "scale": {"domain": ["PC", "TFSI⁻", "Li⁺"], "range": ["#8a2be2", "#87cefa", "#f08080"]},
                 "legend": {"title": null, "orient": "none", "legendX": 21, "legendY": 257, "symbolType": "M-1,0H4", "symbolSize": 400, "symbolStrokeWidth": 4, "labelOffset": 44, "labelFontSize": 23, "labelFont": "DejaVu Sans", "labelColor": "black", "rowPadding": 9, "padding": 8, "strokeColor": "#333333", "fillColor": "white", "cornerRadius": 5}},
       "order": {"field": "E", "type": "quantitative"}
     }},
    {"transform": [{"aggregate": [{"op": "count", "as": "n"}], "groupby": ["panel"]}],
     "mark": {"type": "rule", "color": "#808080", "strokeWidth": 3.5, "strokeDash": [15, 7]},
     "encoding": {"y": {"datum": 0}}}
  ]
},
"config": {"view": {"stroke": "black", "strokeWidth": 3.5}, "font": "DejaVu Sans"}
}
